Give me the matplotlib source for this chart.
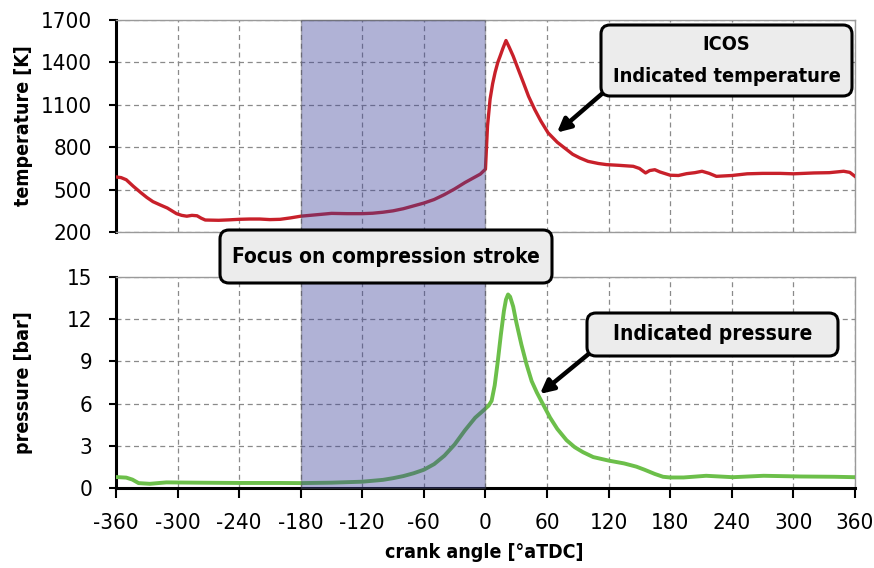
import matplotlib
matplotlib.use("Agg")
import matplotlib.pyplot as plt
from matplotlib.patches import Rectangle, FancyBboxPatch
from matplotlib.transforms import blended_transform_factory, IdentityTransform

plt.rcParams["font.family"] = ["DejaVu Sans"]
plt.rcParams["font.stretch"] = "condensed"

# temperature trace [K] vs crank angle
temp_angle = [-360, -355, -350, -343, -336, -330, -324, -317, -310, -301, -296, -291,
              -286, -281, -277, -273, -260, -250, -240, -230, -220, -210, -200, -190,
              -180, -165, -150, -135, -120, -110, -100, -90, -80, -70, -60, -50, -40,
              -30, -20, -10, -5, 0, 1, 2, 4.5, 7, 9.4, 12, 14.3, 17, 20, 23, 27, 32,
              37, 42, 48, 54, 61, 70, 79, 85, 92, 100, 110, 118, 130, 144, 150, 156,
              160, 165, 170, 180, 188, 196, 204, 211, 218, 225, 240, 255, 270, 287,
              300, 320, 335, 349, 355, 360]
temp_val = [590, 585, 570, 523, 480, 445, 415, 392, 370, 330, 318, 312,
            318, 315, 298, 285, 283, 286, 290, 292, 292, 288, 290, 300,
            312, 322, 332, 330, 330, 333, 340, 350, 365, 385, 405, 430, 465,
            505, 550, 590, 610, 645, 800, 950, 1140, 1250, 1330, 1400, 1445, 1500,
            1555, 1510, 1445, 1350, 1256, 1160, 1067, 985, 902, 835, 784, 750, 724,
            700, 685, 677, 672, 665, 650, 618, 635, 641, 625, 602, 600, 613, 620,
            630, 615, 594, 600, 612, 615, 615, 612, 618, 620, 630, 622, 594]

# pressure trace [bar] vs crank angle
pres_angle = [-360, -350, -344, -338, -327, -311, -280, -240, -200, -180, -150, -120,
              -100, -90, -80, -70, -60, -50, -40, -30, -20, -10, -3, 0, 3, 6, 9, 12,
              15, 18, 20, 22, 24, 27, 30, 35, 40, 45, 50, 55, 63, 70, 79, 87, 95, 105,
              120, 135, 147, 155, 165, 173, 180, 193, 215, 241, 271, 307, 340, 360]
pres_val = [0.78, 0.74, 0.6, 0.35, 0.3, 0.4, 0.38, 0.36, 0.36, 0.35, 0.38, 0.45,
            0.58, 0.7, 0.85, 1.05, 1.3, 1.7, 2.3, 3.1, 4.1, 5.0, 5.45, 5.65, 5.85,
            6.2, 7.3, 9.0, 10.9, 12.6, 13.4, 13.76, 13.6, 12.9, 11.8, 10.2, 8.8,
            7.6, 6.8, 6.1, 5.0, 4.2, 3.4, 2.9, 2.55, 2.2, 1.95, 1.75, 1.52, 1.3, 1.0,
            0.8, 0.75, 0.75, 0.87, 0.77, 0.87, 0.82, 0.8, 0.77]

x_ticks = list(range(-360, 361, 60))
t_ticks = [200, 500, 800, 1100, 1400, 1700]
p_ticks = [0, 3, 6, 9, 12, 15]

RED = "#c8202a"
GREEN = "#6cbf4a"
W, H = 874, 568

fig = plt.figure(figsize=(W / 100, H / 100), dpi=100)
ax1 = fig.add_axes([0.1327, 0.5915, 0.8455, 0.3732])
ax2 = fig.add_axes([0.1327, 0.1408, 0.8455, 0.3715])

for ax in (ax1, ax2):
    ax.set_xlim(-360, 360)
    ax.set_xticks(x_ticks)
    ax.grid(True, linestyle=(0, (4, 3)), color="#8a8a8a", linewidth=0.9)
    ax.set_axisbelow(True)
    for s in ("top", "right", "bottom"):
        ax.spines[s].set_color("#9a9a9a")
        ax.spines[s].set_linewidth(1.0)
    ax.spines["left"].set_linewidth(2.2)
    ax.tick_params(axis="y", direction="out", length=5, width=1.5, labelsize=16, pad=12)
    ax.yaxis.set_label_coords(-0.112, 0.5)

ax1.plot(temp_angle, temp_val, color=RED, lw=2.4, zorder=3, solid_joinstyle="round")
ax1.set_ylim(200, 1700)
ax1.set_yticks(t_ticks)
ax1.tick_params(axis="x", length=0, labelbottom=False)
ax1.set_ylabel("temperature [K]", fontsize=14, fontweight="bold")

ax2.plot(pres_angle, pres_val, color=GREEN, lw=2.8, zorder=3, solid_joinstyle="round")
ax2.set_ylim(0, 15)
ax2.set_yticks(p_ticks)
ax2.spines["bottom"].set_color("black")
ax2.spines["bottom"].set_linewidth(2.2)
ax2.tick_params(axis="x", direction="out", length=7, width=1.5, labelsize=16, pad=11)
ax2.set_xticklabels([str(v) for v in x_ticks])
ax2.set_ylabel("pressure [bar]", fontsize=14, fontweight="bold")
ax2.set_xlabel("crank angle [°aTDC]", fontsize=14, fontweight="bold")
ax2.xaxis.set_label_coords(0.499, -0.262)

# shaded compression stroke spanning both panels
trans = blended_transform_factory(ax2.transData, fig.transFigure)
fig.add_artist(Rectangle((-180, 1 - 488 / H), 180, 468 / H, transform=trans,
                         facecolor="#3a3f99", alpha=0.4, edgecolor="#555555",
                         linewidth=1.0, zorder=1))


def callout(x0, y0, x1, y1, lines, line_y, size=15):
    # rounded label box given in pixel coords measured from the top-left corner
    fig.add_artist(FancyBboxPatch((x0, H - y1), x1 - x0, y1 - y0,
                                  boxstyle="round,pad=0,rounding_size=9",
                                  transform=IdentityTransform(), facecolor="#ececec",
                                  edgecolor="black", linewidth=2.2, zorder=5))
    for txt, ty in zip(lines, line_y):
        fig.text((x0 + x1) / 2 / W, 1 - ty / H, txt, ha="center", va="center",
                 fontsize=size, fontweight="bold", zorder=6)


def pointer(ax, start, tip):
    ax.annotate("", xy=tip, xytext=(start[0], H - start[1]), textcoords="figure pixels",
                arrowprops=dict(arrowstyle="-|>,head_length=0.8,head_width=0.4",
                                color="black", lw=3.2, shrinkA=0, shrinkB=0),
                zorder=6, annotation_clip=False)


pointer(ax1, (604, 92), (69.7, 904))
callout(601, 25, 852, 96, ["ICOS", "Indicated temperature"], [45, 76], size=14.3)

pointer(ax2, (591, 352), (53.1, 6.69))
callout(587, 313, 838, 356, ["Indicated pressure"], [334])

callout(220, 230, 552, 283, ["Focus on compression stroke"], [257])

fig.savefig("out.png", dpi=100)
